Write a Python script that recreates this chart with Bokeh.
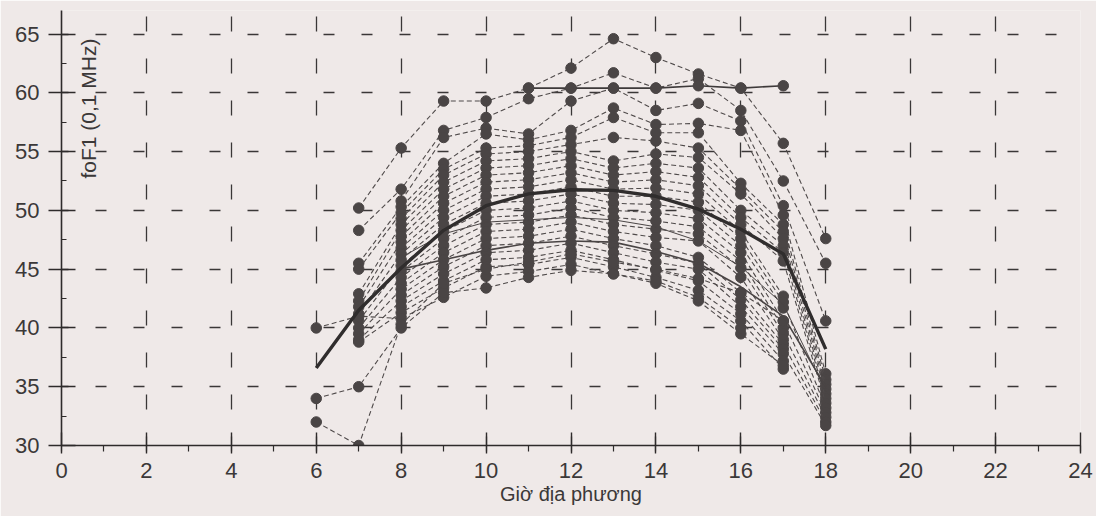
import math
from bokeh.plotting import figure
from bokeh.models import SingleIntervalTicker, Label, ColumnDataSource, Range1d
from bokeh.embed import file_html
from bokeh.resources import INLINE

N = None
hours = [6, 7, 8, 9, 10, 11, 12, 13, 14, 15, 16, 17, 18]

# individual days (foF1, 0.1 MHz); None = no reading
s01 = [N, 50.2, 55.3, 59.3, 59.3, 60.4, 62.1, 64.6, 63.0, 61.6, 60.4, 55.7, 47.6]
s03 = [N, 48.3, 51.8, 56.8, 57.9, 59.5, 60.4, 61.7, 60.4, 61.2, 58.5, 52.5, 45.5]
s04 = [N, N, 50.8, 56.2, 57.0, 56.5, 59.3, 60.4, 58.5, 59.1, 57.6, 50.4, 40.6]
s05 = [N, 45.5, 50.3, 54.0, 56.5, 56.0, 56.8, 58.7, 57.3, 57.4, 56.8, 49.6, 36.1]
s06 = [N, 45.0, 49.8, 53.5, 55.3, 55.5, 56.2, 57.9, 56.6, 56.6, 52.3, 48.8, 35.6]
s07 = [N, N, 49.3, 53.0, 54.8, 55.0, 55.6, 56.2, 55.9, 55.3, 51.8, 48.2, 35.2]
s08 = [N, 42.9, 48.8, 52.4, 54.2, 54.4, 55.0, 54.2, 54.8, 54.5, 51.4, 47.6, 34.8]
s09 = [N, 42.3, 48.3, 51.8, 53.6, 53.8, 54.4, 53.6, 54.0, 53.6, 50.0, 47.0, 34.4]
s10 = [N, N, 47.8, 51.2, 53.0, 53.2, 53.8, 53.0, 53.3, 52.8, 49.4, 46.4, 34.0]
s11 = [N, 41.8, 47.3, 50.6, 52.4, 52.6, 53.2, 52.4, 52.6, 52.1, 48.8, 45.7, 33.6]
s12 = [N, N, 46.8, 50.0, 51.8, 52.0, 52.6, 51.8, 51.9, 51.4, 48.2, 42.7, N]
s13 = [N, 41.2, 46.3, 49.4, 51.2, 51.4, 52.0, 51.2, 51.2, 50.7, 47.6, 42.2, 33.2]
s14 = [N, N, 45.8, 48.8, 50.6, 50.8, 51.4, 50.6, 50.5, 50.0, 47.0, 41.7, N]
s15 = [N, 40.6, 45.3, 48.2, 50.0, 50.2, 50.8, 50.0, 49.8, 49.3, 46.4, 40.6, 32.8]
s16 = [N, N, 44.8, 47.6, 49.4, 49.6, 50.2, 49.4, 49.1, 48.6, 45.7, 40.0, N]
s17 = [N, 40.0, 44.3, 47.0, 48.8, 49.0, 49.6, 48.8, 48.4, 48.0, 45.1, 39.5, 32.4]
s18 = [N, N, 43.8, 46.4, 48.2, 48.4, 49.0, 48.2, 47.7, 47.4, 44.3, 39.0, N]
s19 = [N, 39.5, 43.3, 45.8, 47.6, 47.8, 48.4, 47.6, 47.0, 46.0, 43.0, 38.6, 32.0]
s20 = [N, N, 42.8, 45.2, 47.0, 47.2, 47.8, 47.0, 46.3, 45.5, 42.4, 38.2, N]
s21 = [N, 39.0, 42.3, 44.6, 46.4, 46.6, 47.2, 46.4, 45.6, 45.0, 41.8, 37.8, 31.7]
s22 = [N, N, 41.8, 44.0, 45.8, 46.0, 46.6, 45.8, 44.9, 44.0, 41.2, 37.2, N]
s23 = [N, 38.8, 41.3, 43.4, 45.2, 45.4, 46.0, 45.2, 44.3, 43.2, 40.6, 36.5, N]
s24 = [40.0, 41.0, 40.8, 42.6, 44.4, 44.8, 45.4, 44.6, 43.8, 42.3, 39.5, 36.8, N]
s25 = [34.0, 35.0, 40.0, 43.0, 43.4, 44.3, 44.9, 44.6, 44.0, 42.6, 40.0, N, N]
s26 = [32.0, 30.0, 40.3, 43.8, 45.0, 45.6, 46.3, 45.6, 45.0, 44.2, 43.0, 40.6, N]
dashed_days = [s01, s03, s04, s05, s06, s07, s08, s09, s10, s11, s12, s13,
               s14, s15, s16, s17, s18, s19, s20, s21, s22, s23, s24, s25, s26]
solid_day_hours = [11, 12, 13, 14, 15, 16, 17]
solid_day = [60.4, 60.4, 60.4, 60.4, 60.6, 60.4, 60.6]
thin_solid_hours = [8, 9, 10, 11, 12, 13, 14, 15, 16, 17, 18]
thin_solid_a = [45.0, 45.8, 46.6, 47.2, 47.4, 47.3, 46.5, 45.5, 43.5, 41.0, 35.0]
thin_solid_b = [46.0, 48.0, 49.0, 49.2, 49.4, 49.2, 48.6, 47.4, 45.2, 42.0, 34.6]

# mean curve
mean_vals = [36.6, 41.5, 45.1, 48.3, 50.4, 51.4, 51.75, 51.7, 51.2, 50.1, 48.4, 46.3, 38.2]

x_ticks_interval = 2
y_ticks_interval = 5

BG = "#efe9e8"
INK = "#3b3838"
DOT = "#4a4545"
FONT = "Liberation Sans"

p = figure(width=1096, height=516, output_backend="svg", toolbar_location=None,
           x_range=Range1d(0, 24), y_range=Range1d(30, 67),
           min_border_left=61, min_border_right=16, min_border_top=10, min_border_bottom=71,
           background_fill_color=BG, border_fill_color=BG)
p.outline_line_color = None

xt = SingleIntervalTicker(interval=x_ticks_interval, num_minor_ticks=2)
yt = SingleIntervalTicker(interval=y_ticks_interval, num_minor_ticks=2)
p.xaxis.ticker = xt
p.yaxis.ticker = yt
p.xgrid.ticker = xt
p.ygrid.ticker = yt

for ax in (p.xaxis[0], p.yaxis[0]):
    ax.axis_line_color = "#2e2b2b"
    ax.axis_line_width = 1.6
    ax.major_tick_line_color = "#2e2b2b"
    ax.major_tick_line_width = 1.4
    ax.minor_tick_line_color = "#2e2b2b"
    ax.minor_tick_line_width = 1.2
    ax.major_label_text_font = FONT
    ax.major_label_text_font_size = "22px"
    ax.major_label_text_color = INK

p.xaxis.major_tick_in = 13
p.xaxis.major_tick_out = 8
p.xaxis.minor_tick_in = 0
p.xaxis.minor_tick_out = 6
p.xaxis.major_label_standoff = 9
p.xaxis.axis_label = "Giờ địa phương"
p.xaxis.axis_label_text_font = FONT
p.xaxis.axis_label_text_font_size = "20px"
p.xaxis.axis_label_text_font_style = "normal"
p.xaxis.axis_label_text_color = INK
p.xaxis.axis_label_standoff = 2

p.yaxis.major_tick_in = 14
p.yaxis.major_tick_out = 13
p.yaxis.minor_tick_in = 5
p.yaxis.minor_tick_out = 0
p.yaxis.major_label_standoff = 9

p.xgrid.grid_line_color = "#3a3737"
p.xgrid.grid_line_width = 1.3
p.xgrid.grid_line_dash = "15 27"
p.xgrid.grid_line_dash_offset = 6
p.ygrid.grid_line_color = "#3a3737"
p.ygrid.grid_line_width = 1.3
p.ygrid.grid_line_dash = "11 27"
p.ygrid.grid_line_dash_offset = 4

def nanify(vals):
    return [math.nan if v is None else v for v in vals]

for day in dashed_days:
    src = ColumnDataSource(dict(x=hours, y=nanify(day)))
    p.line("x", "y", source=src, line_color="#4f4a4a", line_width=1.1, line_dash="5 3")
    p.scatter("x", "y", source=src, size=10.5, fill_color=DOT, line_color=DOT)

p.line(thin_solid_hours, thin_solid_a, line_color="#4a4545", line_width=1.6)
p.line(thin_solid_hours, thin_solid_b, line_color="#4a4545", line_width=1.0)
p.line(solid_day_hours, solid_day, line_color="#3e3a3a", line_width=1.6)
p.scatter(solid_day_hours, solid_day, size=10.5, fill_color=DOT, line_color=DOT)

p.line(hours, mean_vals, line_color="#302d2d", line_width=3.4)

p.add_layout(Label(x=0.64, y=58.66, text="foF1 (0,1 MHz)", angle=math.pi / 2,
                   text_align="center", text_baseline="middle",
                   text_font=FONT, text_font_size="21px", text_color=INK))

open("out.html", "w").write(file_html(p, INLINE))
